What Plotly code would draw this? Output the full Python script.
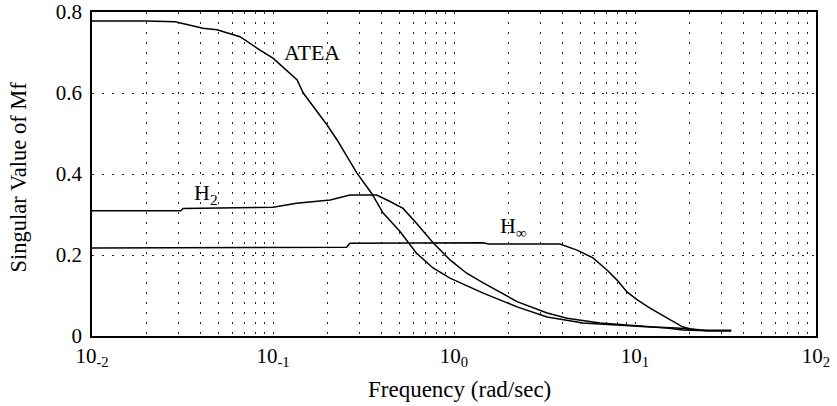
import plotly.graph_objects as go
import numpy as np

# ---- data ----
atea_x = [0.01, 0.02, 0.0288, 0.041, 0.049, 0.0657, 0.0847, 0.1, 0.136, 0.147, 0.199, 0.226,
          0.291, 0.351, 0.405, 0.503, 0.622, 0.766, 0.95, 1.45, 2.23, 3.27, 5.16, 7.96, 12.1,
          17.1, 22, 28, 34]
atea_y = [0.778, 0.778, 0.776, 0.760, 0.756, 0.739, 0.706, 0.686, 0.632, 0.600, 0.521, 0.484,
          0.402, 0.352, 0.304, 0.258, 0.204, 0.168, 0.143, 0.106, 0.072, 0.047, 0.032, 0.027,
          0.022, 0.020, 0.015, 0.014, 0.014]

h2_x = [0.01, 0.031, 0.0318, 0.06, 0.1, 0.135, 0.207, 0.266, 0.374, 0.443, 0.523, 0.622,
        0.766, 0.95, 1.175, 1.45, 2.23, 3.27, 4.21, 6.41, 9.75, 15.0, 18.4, 25, 34]
h2_y = [0.309, 0.309, 0.315, 0.316, 0.318, 0.328, 0.336, 0.348, 0.348, 0.332, 0.315, 0.278,
        0.230, 0.188, 0.155, 0.131, 0.085, 0.057, 0.044, 0.032, 0.027, 0.020, 0.015, 0.013, 0.013]

hinf_x = [0.01, 0.1, 0.255, 0.266, 1.45, 1.55, 3.85, 4.78, 5.86, 7.0, 7.96, 9.03, 10.3, 12.1,
          15.0, 18.4, 20.1, 25, 34]
hinf_y = [0.217, 0.218, 0.219, 0.229, 0.230, 0.227, 0.227, 0.212, 0.193, 0.163, 0.138, 0.109,
          0.089, 0.069, 0.044, 0.022, 0.018, 0.013, 0.013]

y_ticks = [0, 0.2, 0.4, 0.6, 0.8]
y_labels = ["0", "0.2", "0.4", "0.6", "0.8"]
x_ticks = [0.01, 0.1, 1, 10, 100]
x_labels = ["10<sub>-2</sub>", "10<sub>-1</sub>", "10<sub>0</sub>", "10<sub>1</sub>", "10<sub>2</sub>"]
x_minor = [m * 10.0 ** e for e in range(-2, 2) for m in range(2, 10)]

curve_labels = [("ATEA", 0.164, 0.699), ("H<sub>2</sub>", 0.0427, 0.350), ("H<sub>∞</sub>", 2.12, 0.269)]

FONT = "Liberation Serif, Times New Roman, serif"
GRID = dict(showgrid=True, gridcolor="#222", griddash="2px,8px", gridwidth=1)

fig = go.Figure()
for xs, ys, name in [(atea_x, atea_y, "ATEA"), (h2_x, h2_y, "H2"), (hinf_x, hinf_y, "Hinf")]:
    fig.add_trace(go.Scatter(x=xs, y=ys, mode="lines", name=name,
                             line=dict(color="black", width=1.5)))

for txt, lx, ly in curve_labels:
    fig.add_annotation(x=np.log10(lx), y=ly, text=txt, showarrow=False,
                       font=dict(family=FONT, size=22, color="black"))

# axis titles
fig.add_annotation(xref="paper", yref="paper", x=0.507, y=-0.165, text="Frequency (rad/sec)",
                   showarrow=False, xanchor="center", yanchor="middle",
                   font=dict(family=FONT, size=23, color="black"))
fig.add_annotation(xref="paper", yref="paper", x=-0.102, y=0.49, text="Singular Value of Mf",
                   showarrow=False, xanchor="center", yanchor="middle", textangle=-90,
                   font=dict(family=FONT, size=22.5, color="black"))

fig.update_layout(
    width=837, height=406,
    margin=dict(l=92, r=21, t=12, b=70),
    paper_bgcolor="white", plot_bgcolor="white",
    showlegend=False,
    font=dict(family=FONT, size=21, color="black"),
)
fig.update_xaxes(
    type="log", range=[-2, 2], automargin=False,
    tickvals=x_ticks, ticktext=x_labels,
    **GRID,
    minor=dict(tickvals=x_minor, **GRID),
    showline=True, linecolor="black", linewidth=1.6, mirror=True,
    ticks="", zeroline=False,
    tickfont=dict(family=FONT, size=21),
)
fig.update_yaxes(
    range=[0, 0.8], automargin=False,
    tickvals=y_ticks, ticktext=y_labels,
    **GRID,
    showline=True, linecolor="black", linewidth=1.6, mirror=True,
    ticks="outside", ticklen=4, tickcolor="rgba(0,0,0,0)", zeroline=False,
    tickfont=dict(family=FONT, size=21),
)

fig.write_html("out.html")
